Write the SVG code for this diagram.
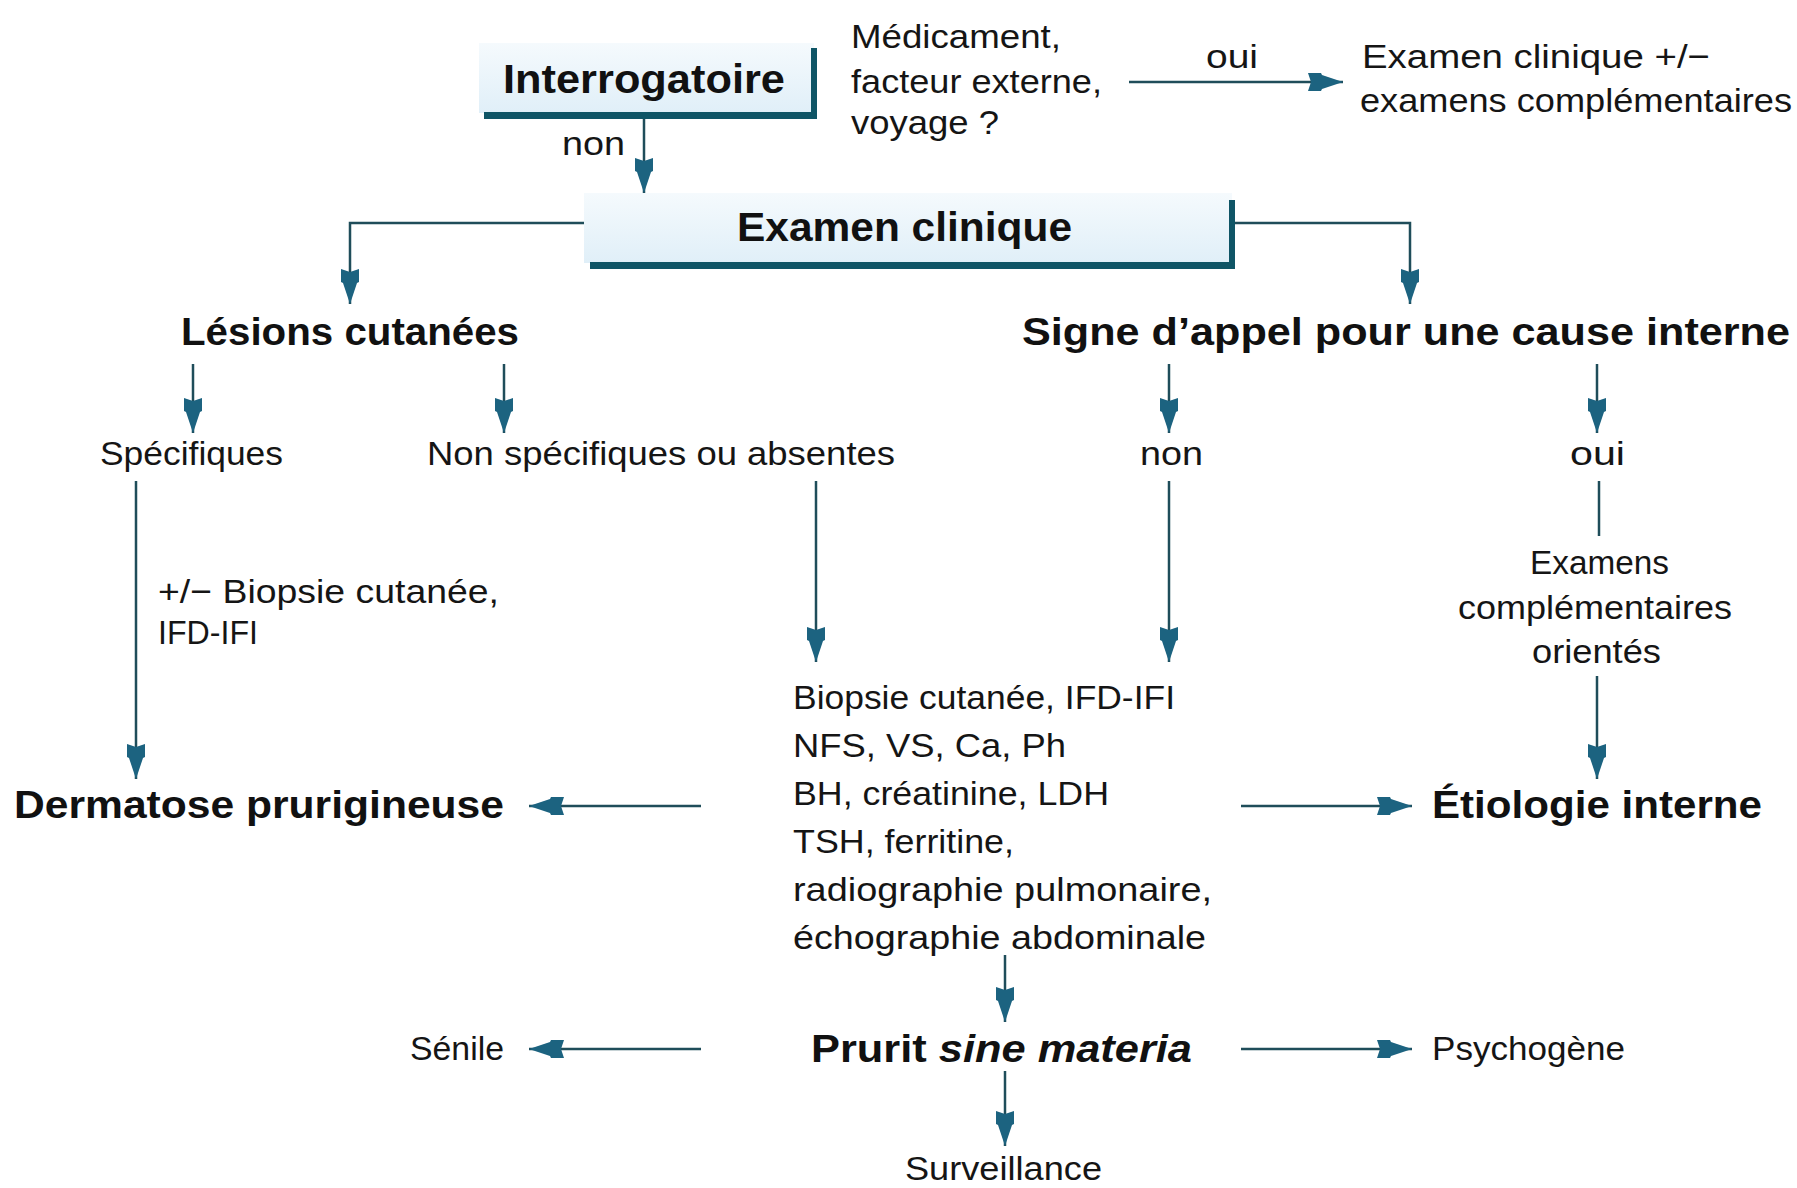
<svg xmlns="http://www.w3.org/2000/svg" width="1797" height="1188" viewBox="0 0 1797 1188">
<style>
.r{font-family:"Liberation Sans",Arial,sans-serif;font-size:34px;fill:#151515}
.b{font-family:"Liberation Sans",Arial,sans-serif;font-size:38px;font-weight:bold;fill:#111}
.t{font-family:"Liberation Sans",Arial,sans-serif;font-size:40px;font-weight:bold;fill:#111}
.c{fill:none;stroke:#1f4d5a;stroke-width:2.5}
.bar{fill:#0f5566}
</style>
<defs>
<linearGradient id="bg" x1="0" y1="0" x2="0" y2="1">
<stop offset="0" stop-color="#f5fafd"/>
<stop offset="1" stop-color="#e0eff8"/>
</linearGradient>
<marker id="ah" markerUnits="userSpaceOnUse" markerWidth="44" markerHeight="22" refX="40" refY="11" orient="auto" overflow="visible">
<path d="M40,11 L19,4 L18,2 L5,2 L8,11 L5,20 L18,20 L19,18 Z" fill="#1c6380"/>
</marker>
</defs>
<rect width="1797" height="1188" fill="#ffffff"/>

<g id="connectors">
<path class="c" d="M644,119 V193" marker-end="url(#ah)"/>
<path class="c" d="M1129,82 H1343" marker-end="url(#ah)"/>
<path class="c" d="M584,223 H350 V304" marker-end="url(#ah)"/>
<path class="c" d="M1234,223 H1410 V304" marker-end="url(#ah)"/>
<path class="c" d="M193,364 V433" marker-end="url(#ah)"/>
<path class="c" d="M504,364 V433" marker-end="url(#ah)"/>
<path class="c" d="M1169,364 V433" marker-end="url(#ah)"/>
<path class="c" d="M1597,364 V433" marker-end="url(#ah)"/>
<path class="c" d="M136,481 V779" marker-end="url(#ah)"/>
<path class="c" d="M816,481 V662" marker-end="url(#ah)"/>
<path class="c" d="M1169,481 V662" marker-end="url(#ah)"/>
<path class="c" d="M1599,481 V536"/>
<path class="c" d="M1597,676 V779" marker-end="url(#ah)"/>
<path class="c" d="M701,806 H529" marker-end="url(#ah)"/>
<path class="c" d="M1241,806 H1412" marker-end="url(#ah)"/>
<path class="c" d="M1005,955 V1022" marker-end="url(#ah)"/>
<path class="c" d="M701,1049 H529" marker-end="url(#ah)"/>
<path class="c" d="M1241,1049 H1412" marker-end="url(#ah)"/>
<path class="c" d="M1005,1071 V1146" marker-end="url(#ah)"/>
</g>

<g id="interrogatoire">
<rect x="479" y="43" width="335" height="70" fill="url(#bg)"/>
<rect class="bar" x="484" y="112" width="333" height="7"/>
<rect class="bar" x="811" y="48" width="6" height="71"/>
<text class="t" x="503" y="93" textLength="282" lengthAdjust="spacingAndGlyphs">Interrogatoire</text>
</g>
<g id="lbl-non1"><text class="r" x="562" y="155" textLength="63" lengthAdjust="spacingAndGlyphs">non</text></g>
<g id="question">
<text class="r" x="851" y="48" textLength="210" lengthAdjust="spacingAndGlyphs">Médicament,</text>
<text class="r" x="851" y="93" textLength="251" lengthAdjust="spacingAndGlyphs">facteur externe,</text>
<text class="r" x="851" y="134" textLength="148" lengthAdjust="spacingAndGlyphs">voyage ?</text>
</g>
<g id="lbl-oui1"><text class="r" x="1206" y="68" textLength="52" lengthAdjust="spacingAndGlyphs">oui</text></g>
<g id="examen-externe">
<text class="r" x="1362" y="68" textLength="348" lengthAdjust="spacingAndGlyphs">Examen clinique +/−</text>
<text class="r" x="1360" y="112" textLength="432" lengthAdjust="spacingAndGlyphs">examens complémentaires</text>
</g>

<g id="examen-clinique">
<rect x="584" y="193" width="648" height="70" fill="url(#bg)"/>
<rect class="bar" x="590" y="262" width="645" height="7"/>
<rect class="bar" x="1229" y="200" width="6" height="69"/>
<text class="t" x="737" y="241" textLength="335" lengthAdjust="spacingAndGlyphs">Examen clinique</text>
</g>

<g id="lesions"><text class="b" x="181" y="345" textLength="338" lengthAdjust="spacingAndGlyphs">Lésions cutanées</text></g>
<g id="signe"><text class="b" x="1022" y="345" textLength="768" lengthAdjust="spacingAndGlyphs">Signe d’appel pour une cause interne</text></g>

<g id="specifiques"><text class="r" x="100" y="465" textLength="183" lengthAdjust="spacingAndGlyphs">Spécifiques</text></g>
<g id="non-specifiques"><text class="r" x="427" y="465" textLength="468" lengthAdjust="spacingAndGlyphs">Non spécifiques ou absentes</text></g>
<g id="lbl-non2"><text class="r" x="1140" y="465" textLength="63" lengthAdjust="spacingAndGlyphs">non</text></g>
<g id="lbl-oui2"><text class="r" x="1570" y="465" textLength="55" lengthAdjust="spacingAndGlyphs">oui</text></g>

<g id="biopsie-label">
<text class="r" x="158" y="603" textLength="341" lengthAdjust="spacingAndGlyphs">+/− Biopsie cutanée,</text>
<text class="r" x="158" y="644" textLength="100" lengthAdjust="spacingAndGlyphs">IFD-IFI</text>
</g>

<g id="examens-orientes">
<text class="r" x="1530" y="574" textLength="139" lengthAdjust="spacingAndGlyphs">Examens</text>
<text class="r" x="1458" y="619" textLength="274" lengthAdjust="spacingAndGlyphs">complémentaires</text>
<text class="r" x="1532" y="663" textLength="129" lengthAdjust="spacingAndGlyphs">orientés</text>
</g>

<g id="bilan">
<text class="r" x="793" y="709" textLength="382" lengthAdjust="spacingAndGlyphs">Biopsie cutanée, IFD-IFI</text>
<text class="r" x="793" y="757" textLength="273" lengthAdjust="spacingAndGlyphs">NFS, VS, Ca, Ph</text>
<text class="r" x="793" y="805" textLength="316" lengthAdjust="spacingAndGlyphs">BH, créatinine, LDH</text>
<text class="r" x="793" y="853" textLength="221" lengthAdjust="spacingAndGlyphs">TSH, ferritine,</text>
<text class="r" x="793" y="901" textLength="419" lengthAdjust="spacingAndGlyphs">radiographie pulmonaire,</text>
<text class="r" x="793" y="949" textLength="413" lengthAdjust="spacingAndGlyphs">échographie abdominale</text>
</g>

<g id="dermatose"><text class="b" x="14" y="818" textLength="490" lengthAdjust="spacingAndGlyphs">Dermatose prurigineuse</text></g>
<g id="etiologie"><text class="b" x="1432" y="818" textLength="330" lengthAdjust="spacingAndGlyphs">Étiologie interne</text></g>

<g id="prurit"><text class="b" x="811" y="1062" textLength="381" lengthAdjust="spacingAndGlyphs">Prurit <tspan font-style="italic">sine materia</tspan></text></g>
<g id="senile"><text class="r" x="410" y="1060" textLength="94" lengthAdjust="spacingAndGlyphs">Sénile</text></g>
<g id="psychogene"><text class="r" x="1432" y="1060" textLength="193" lengthAdjust="spacingAndGlyphs">Psychogène</text></g>
<g id="surveillance"><text class="r" x="905" y="1180" textLength="197" lengthAdjust="spacingAndGlyphs">Surveillance</text></g>
</svg>
